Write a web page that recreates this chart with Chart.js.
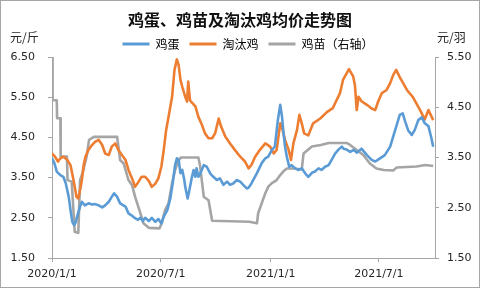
<!DOCTYPE html>
<html>
<head>
<meta charset="utf-8">
<script src="https://cdn.jsdelivr.net/npm/chart.js@4.4.0/dist/chart.umd.min.js"></script>
<style>
  html, body { margin: 0; padding: 0; background: #fff; }
  #wrap { position: relative; width: 480px; height: 288px; }
</style>
</head>
<body>
<div id="wrap"><canvas id="chart" width="480" height="288"></canvas></div>
<script>
// days counted from 2020/1/1
const tickDays = [0, 182, 366, 547];
const tickLabels = ['2020/1/1', '2020/7/1', '2021/1/1', '2021/7/1'];

const chartTitle = '鸡蛋、鸡苗及淘汰鸡均价走势图';
const seriesNames = ['鸡蛋', '淘汰鸡', '鸡苗（右轴）'];
const leftUnit = '元/斤';
const rightUnit = '元/羽';

// 鸡蛋 (left axis)
const eggDays = [0, 4, 8, 14, 19, 23, 28, 31, 34, 37, 40, 42, 47, 50, 55, 61, 67, 72, 78, 84, 89, 95, 100, 104, 109, 114, 123, 128, 134, 139, 144, 148, 152, 156, 162, 167, 173, 178, 183, 187, 193, 198, 202, 206, 209, 212, 215, 218, 221, 223, 227, 230, 234, 237, 240, 242, 245, 248, 254, 259, 265, 270, 276, 281, 287, 293, 298, 304, 309, 315, 320, 326, 329, 334, 343, 351, 357, 362, 368, 373, 378, 382, 385, 387, 390, 393, 397, 401, 407, 412, 418, 424, 429, 435, 440, 446, 451, 457, 463, 468, 474, 479, 485, 488, 493, 499, 505, 510, 518, 527, 535, 541, 549, 557, 566, 571, 577, 582, 587, 591, 596, 602, 607, 613, 619, 624, 630, 635, 638];
const eggPrices = [3.98, 3.86, 3.65, 3.56, 3.52, 3.36, 3.02, 2.69, 2.40, 2.32, 2.40, 2.53, 2.78, 2.90, 2.81, 2.86, 2.83, 2.84, 2.81, 2.76, 2.81, 2.90, 3.02, 3.11, 3.02, 2.86, 2.78, 2.61, 2.55, 2.49, 2.45, 2.50, 2.42, 2.50, 2.42, 2.50, 2.40, 2.47, 2.36, 2.53, 2.69, 2.98, 3.36, 3.81, 3.98, 3.94, 3.61, 3.69, 3.48, 3.27, 2.98, 3.19, 3.50, 3.69, 3.52, 3.73, 3.52, 3.60, 3.81, 3.77, 3.60, 3.52, 3.44, 3.48, 3.32, 3.40, 3.32, 3.36, 3.44, 3.40, 3.32, 3.23, 3.25, 3.36, 3.61, 3.86, 3.98, 4.02, 4.19, 4.27, 4.93, 5.31, 5.01, 4.68, 4.27, 4.02, 3.77, 3.81, 3.73, 3.69, 3.73, 3.60, 3.52, 3.62, 3.65, 3.73, 3.69, 3.77, 3.81, 3.94, 4.10, 4.19, 4.27, 4.22, 4.20, 4.14, 4.19, 4.12, 4.22, 4.06, 3.94, 3.90, 3.98, 4.06, 4.27, 4.52, 4.81, 5.06, 5.10, 4.90, 4.68, 4.56, 4.68, 4.93, 5.00, 4.85, 4.78, 4.48, 4.27];

// 淘汰鸡 (left axis)
const henDays = [0, 5, 10, 14, 19, 25, 31, 36, 41, 44, 47, 50, 53, 56, 61, 67, 72, 78, 84, 89, 95, 100, 106, 111, 117, 123, 128, 134, 139, 145, 150, 156, 162, 167, 173, 178, 183, 187, 191, 195, 201, 205, 209, 212, 215, 218, 223, 226, 228, 231, 235, 240, 245, 251, 256, 262, 268, 273, 279, 283, 290, 298, 306, 315, 323, 329, 334, 340, 348, 357, 365, 371, 376, 382, 386, 390, 396, 400, 404, 410, 414, 418, 422, 429, 437, 449, 460, 470, 482, 487, 497, 504, 507, 510, 513, 518, 527, 535, 541, 546, 552, 560, 566, 571, 576, 582, 594, 604, 616, 624, 630, 638];
const henPrices = [4.10, 4.02, 3.90, 3.98, 4.02, 3.95, 3.81, 3.44, 3.02, 2.98, 3.19, 3.44, 3.81, 4.02, 4.19, 4.31, 4.39, 4.44, 4.31, 4.10, 4.06, 4.27, 4.35, 4.19, 4.06, 3.94, 3.69, 3.48, 3.27, 3.40, 3.52, 3.52, 3.42, 3.27, 3.35, 3.48, 3.77, 4.19, 4.68, 5.01, 5.51, 6.18, 6.44, 6.30, 5.93, 5.76, 5.51, 5.39, 5.89, 5.42, 5.35, 5.27, 5.01, 4.81, 4.60, 4.48, 4.48, 4.60, 4.97, 4.77, 4.52, 4.35, 4.19, 4.02, 3.90, 3.73, 3.82, 4.02, 4.19, 4.35, 4.27, 4.10, 4.19, 4.85, 4.68, 4.44, 4.19, 3.94, 4.35, 4.68, 5.06, 4.85, 4.60, 4.55, 4.85, 4.97, 5.13, 5.23, 5.60, 5.93, 6.20, 6.02, 5.80, 5.18, 5.51, 5.40, 5.31, 5.22, 5.18, 5.40, 5.60, 5.68, 5.85, 6.05, 6.18, 6.00, 5.68, 5.50, 5.18, 4.95, 5.18, 4.93];

// 鸡苗 (right axis)
const chickDays = [0, 1, 8, 8.5, 14, 14.5, 25, 26, 33, 38, 44, 47, 51, 58, 62, 70, 109, 114, 120, 128, 134, 139, 148, 153, 162, 180, 184, 189, 195, 201, 206, 212, 216, 245, 248, 254, 262, 268, 330, 343, 345, 351, 357, 362, 368, 376, 382, 387, 393, 405, 418, 421, 428, 435, 450, 463, 493, 499, 510, 521, 532, 543, 555, 571, 577, 610, 625, 638];
const chickPrices = [5.50, 4.64, 4.64, 4.28, 4.28, 3.52, 3.52, 3.05, 3.02, 2.02, 2.00, 3.05, 3.19, 3.52, 3.85, 3.91, 3.91, 3.45, 3.38, 3.05, 2.95, 2.72, 2.39, 2.19, 2.10, 2.09, 2.20, 2.45, 2.59, 2.99, 3.25, 3.45, 3.50, 3.50, 3.32, 2.72, 2.65, 2.24, 2.22, 2.19, 2.39, 2.59, 2.79, 2.92, 2.99, 3.05, 3.15, 3.22, 3.28, 3.28, 3.26, 3.58, 3.65, 3.72, 3.75, 3.79, 3.79, 3.75, 3.65, 3.55, 3.38, 3.28, 3.25, 3.24, 3.30, 3.32, 3.35, 3.33];

const seriesColors = ['#5B9BD5', '#ED7D31', '#A5A5A5'];
const axisColor = '#A6A6A6';
const textColor = '#262626';
const cjkFont = '"Noto Sans CJK SC", "Noto Sans", sans-serif';
const numFont = '"DejaVu Sans", sans-serif';

const toPoints = (days, vals) => days.map((d, i) => ({ x: d, y: vals[i] }));

const makeSet = (i, days, vals, axis) => ({
  label: seriesNames[i],
  data: toPoints(days, vals),
  yAxisID: axis,
  borderColor: seriesColors[i],
  backgroundColor: seriesColors[i],
  borderWidth: 2.6,
  pointRadius: 0,
  tension: 0,
  borderJoinStyle: 'round',
  fill: false
});

const extras = {
  id: 'extras',
  afterLayout(chart) {
    // legend in the picture sits a little right of centre
    chart.legend.left += 8;
    chart.legend.right += 8;
  },
  afterDraw(chart) {
    const ctx = chart.ctx;
    ctx.save();
    ctx.font = '12px ' + cjkFont;
    ctx.fillStyle = textColor;
    ctx.textBaseline = 'middle';
    ctx.textAlign = 'left';
    ctx.fillText(leftUnit, 10, 37);
    ctx.fillText(rightUnit, 437, 37);
    ctx.strokeStyle = axisColor;
    ctx.lineWidth = 1;
    ctx.strokeRect(0.5, 0.5, 479, 287);
    ctx.restore();
  }
};

const whiteBg = {
  id: 'whiteBg',
  beforeDraw(chart) {
    const ctx = chart.ctx;
    ctx.save();
    ctx.fillStyle = '#fff';
    ctx.fillRect(0, 0, chart.width, chart.height);
    ctx.restore();
  }
};

const tickStyle = { font: { family: numFont, size: 11 }, color: textColor };
const gridStyle = { drawOnChartArea: false, drawTicks: true, tickLength: 4, tickColor: axisColor };
const borderStyle = { color: axisColor, width: 1 };

const ctx = document.querySelector('#chart').getContext('2d');
const chart = new Chart(ctx, {
  type: 'line',
  data: {
    datasets: [
      makeSet(0, eggDays, eggPrices, 'y'),
      makeSet(1, henDays, henPrices, 'y'),
      makeSet(2, chickDays, chickPrices, 'y1')
    ]
  },
  options: {
    responsive: false,
    animation: false,
    devicePixelRatio: 1,
    layout: { padding: 0 },
    plugins: {
      title: {
        display: true,
        text: chartTitle,
        color: '#111',
        font: { family: cjkFont, size: 16, weight: 'bold', lineHeight: 1 },
        padding: { top: 12, bottom: 0 }
      },
      legend: {
        position: 'top',
        maxHeight: 29,
        labels: {
          font: { family: cjkFont, size: 12 },
          color: textColor,
          boxWidth: 27,
          boxHeight: 3,
          padding: 10,
          generateLabels: (c) => c.data.datasets.map((ds, i) => ({
            text: ds.label,
            fillStyle: ds.borderColor,
            strokeStyle: ds.borderColor,
            lineWidth: 0,
            hidden: false,
            datasetIndex: i
          }))
        }
      },
      tooltip: { enabled: false }
    },
    scales: {
      x: {
        type: 'linear',
        min: 0,
        max: 641,
        afterBuildTicks: (axis) => { axis.ticks = tickDays.map(v => ({ value: v })); },
        afterFit: (s) => { s.height = 30; },
        ticks: Object.assign({}, tickStyle, {
          padding: 6,
          maxRotation: 0,
          autoSkip: false,
          callback: (v) => tickLabels[tickDays.indexOf(v)]
        }),
        grid: gridStyle,
        border: borderStyle
      },
      y: {
        position: 'left',
        min: 1.5,
        max: 6.5,
        afterFit: (s) => { s.width = 52; },
        ticks: Object.assign({}, tickStyle, {
          stepSize: 1,
          padding: 13,
          callback: (v) => v.toFixed(2)
        }),
        grid: gridStyle,
        border: borderStyle
      },
      y1: {
        position: 'right',
        min: 1.5,
        max: 5.5,
        afterFit: (s) => { s.width = 45; },
        ticks: Object.assign({}, tickStyle, {
          stepSize: 1,
          padding: 8,
          callback: (v) => v.toFixed(2)
        }),
        grid: gridStyle,
        border: borderStyle
      }
    }
  },
  plugins: [whiteBg, extras]
});
</script>
</body>
</html>
